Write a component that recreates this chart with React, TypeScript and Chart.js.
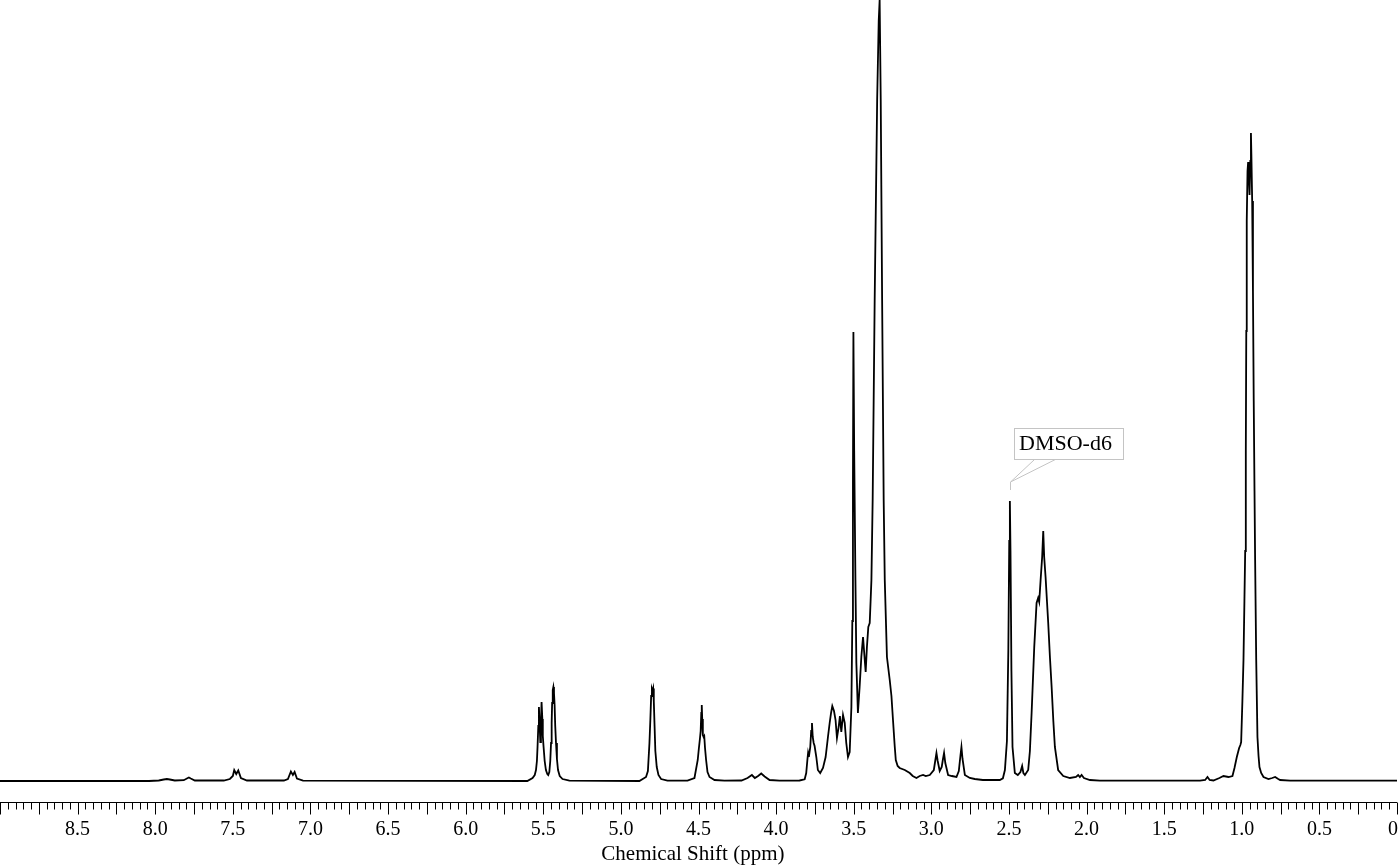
import React, { useEffect, useRef } from 'react';
import { Chart, registerables } from 'chart.js';

Chart.register(...registerables);

// Chemical shift (ppm) and intensity (arbitrary units)
const ppm = [
  9.0, 8.041, 7.977, 7.945, 7.925, 7.906, 7.874, 7.816, 7.796, 7.783, 7.771, 7.745,
  7.558, 7.519, 7.5, 7.491, 7.478, 7.465, 7.448, 7.409,
  7.171, 7.145, 7.126, 7.113, 7.102, 7.087, 7.048,
  5.603, 5.569, 5.555, 5.547, 5.541, 5.537, 5.532, 5.528, 5.524, 5.519, 5.515, 5.511,
  5.506, 5.503, 5.498, 5.491, 5.483, 5.474, 5.468, 5.461, 5.455, 5.45, 5.446, 5.443,
  5.439, 5.435, 5.431, 5.427, 5.423, 5.418, 5.412, 5.405, 5.394, 5.376, 5.332,
  4.881, 4.838, 4.826, 4.816, 4.81, 4.805, 4.8, 4.796, 4.792, 4.788, 4.783, 4.778,
  4.769, 4.758, 4.741, 4.7,
  4.571, 4.526, 4.505, 4.498, 4.491, 4.486, 4.482, 4.479, 4.476, 4.472, 4.467, 4.463,
  4.458, 4.451, 4.442, 4.429, 4.397, 4.333,
  4.223, 4.184, 4.156, 4.137, 4.116, 4.096, 4.074, 4.042, 3.978, 3.849,
  3.816, 3.806, 3.798, 3.794, 3.789, 3.78, 3.774, 3.769, 3.764, 3.758, 3.752, 3.741,
  3.731, 3.716, 3.698, 3.681, 3.666, 3.655, 3.646, 3.638, 3.627, 3.617, 3.608, 3.597,
  3.589, 3.58, 3.569, 3.558, 3.548, 3.537, 3.526, 3.515, 3.509, 3.505, 3.502, 3.497,
  3.489, 3.483, 3.473, 3.462, 3.451, 3.44, 3.429, 3.423, 3.415, 3.406, 3.397, 3.391,
  3.386, 3.378, 3.365, 3.349, 3.339, 3.333, 3.326, 3.317, 3.307, 3.3, 3.286, 3.268,
  3.257, 3.247, 3.236, 3.229, 3.217, 3.204, 3.171, 3.139, 3.12, 3.096, 3.075, 3.053,
  3.036, 3.01, 2.984, 2.975, 2.967, 2.959, 2.946, 2.933, 2.925, 2.918, 2.91, 2.892,
  2.868, 2.838, 2.823, 2.812, 2.806, 2.799, 2.784, 2.752, 2.72, 2.668,
  2.559, 2.539, 2.526, 2.513, 2.504, 2.498, 2.494, 2.49, 2.484, 2.477, 2.462, 2.443,
  2.426, 2.415, 2.407, 2.397, 2.376, 2.365, 2.354, 2.337, 2.322, 2.312, 2.305, 2.296,
  2.286, 2.279, 2.273, 2.264, 2.247, 2.236, 2.225, 2.214, 2.204, 2.183, 2.15, 2.107,
  2.068, 2.054, 2.043, 2.032, 2.017, 1.978, 1.914,
  1.269, 1.236, 1.221, 1.207, 1.183, 1.144, 1.118, 1.086, 1.06, 1.047, 1.032, 1.017,
  1.009, 1.004, 0.996, 0.989, 0.983, 0.978, 0.974, 0.971, 0.968, 0.963, 0.959, 0.955,
  0.95, 0.945, 0.941, 0.938, 0.933, 0.928, 0.923, 0.918, 0.914, 0.907, 0.899, 0.892,
  0.886, 0.875, 0.86, 0.828, 0.804, 0.785, 0.765, 0.753, 0.688, 0.0,
];

const intensity = [
  0, 0, 0.5, 1.5, 2, 1.5, 0.5, 0.8, 2.5, 3.5, 2.5, 0.5,
  0.5, 2, 5, 11, 7, 10.5, 3, 0.5,
  0.5, 2, 9.5, 6, 9, 2.5, 0.3,
  0, 3, 6, 11, 20, 34, 55, 74, 58, 39, 58, 79,
  62, 45, 34, 20, 11, 7, 6, 9, 20, 38, 58, 78,
  91, 94, 88, 76, 55, 38, 22, 11, 5, 2, 0.3,
  0, 4, 10, 38, 62, 85, 92, 90, 92.5, 80, 55, 30,
  14, 6, 2, 0.3,
  0.3, 3, 21, 32, 42, 50, 68, 76, 62, 46, 44, 45,
  33, 21, 9, 4, 1, 0.3,
  0.5, 3, 6, 3, 5, 7.5, 4.5, 1, 0.3, 0.5,
  1.7, 8, 22, 28, 24, 34, 50, 58, 44, 38, 35, 24,
  11, 8, 13, 24, 44, 58, 68, 75, 70, 61, 43, 54,
  65, 49, 66, 58, 38, 24, 29, 74, 160, 300, 449, 330,
  201, 118, 68, 94, 124, 144, 121, 109, 134, 154, 158, 181,
  201, 281, 481, 681, 760, 781, 681, 481, 281, 201, 124, 101,
  85, 61, 35, 21, 15, 13, 11, 8, 5, 3, 5, 6,
  5, 6, 11, 20, 28, 20, 10, 14, 22, 28, 18, 6,
  5, 4, 10, 26, 34, 22, 6, 3, 2, 1,
  1, 2.7, 11, 40, 130, 240, 280, 230, 110, 34, 8, 6,
  9, 15, 8, 6, 11, 30, 68, 134, 178, 183, 179, 201,
  224, 250, 224, 204, 158, 124, 94, 60, 34, 11, 5, 3,
  4, 6, 4, 6, 3, 1, 0.3,
  0.3, 1, 4, 1, 0.5, 3, 5, 4, 5, 13, 24, 33,
  36, 39, 80, 121, 180, 230, 330, 450, 560, 610, 619, 605,
  586, 620, 648, 625, 580, 490, 380, 290, 221, 121, 44, 25,
  14, 8, 4, 2, 3, 4, 2, 1, 0.3, 0.3,
];

const tickValues = [8.5, 8.0, 7.5, 7.0, 6.5, 6.0, 5.5, 5.0, 4.5, 4.0, 3.5, 3.0, 2.5, 2.0, 1.5, 1.0, 0.5, 0];
const tickLabels = ['8.5', '8.0', '7.5', '7.0', '6.5', '6.0', '5.5', '5.0', '4.5', '4.0', '3.5', '3.0', '2.5', '2.0', '1.5', '1.0', '0.5', '0'];
const axisTitle = 'Chemical Shift (ppm)';
const annotationLabel = 'DMSO-d6';
const annotationPpm = 2.494;
const annotationValue = 280;

const SERIF = '"Liberation Serif", "Times New Roman", serif';

export default function App() {
  const ref = useRef<HTMLCanvasElement>(null);

  useEffect(() => {
    document.body.style.margin = '0';
    const canvas = ref.current;
    if (!canvas) return;

    const axisPlugin = {
      id: 'nmrAxis',
      afterDraw(chart: any) {
        const c = chart.ctx as CanvasRenderingContext2D;
        const xs = chart.scales.x;
        const ys = chart.scales.y;
        const area = chart.chartArea;
        const y0 = Math.round(area.bottom) + 0.5;
        c.save();
        c.strokeStyle = '#000';
        c.lineWidth = 1;
        c.beginPath();
        c.moveTo(area.left, y0);
        c.lineTo(area.right, y0);
        c.stroke();

        // minor ticks every 0.05 ppm, long ticks every 0.25 ppm
        c.beginPath();
        for (let i = 0; i <= 180; i++) {
          const v = i * 0.05;
          const px = Math.round(xs.getPixelForValue(v)) + 0.5;
          const len = i % 5 === 0 ? 12 : 7;
          c.moveTo(px, y0);
          c.lineTo(px, y0 + len);
        }
        c.stroke();

        // tick labels
        c.fillStyle = '#000';
        c.font = '20px ' + SERIF;
        c.textAlign = 'center';
        c.textBaseline = 'alphabetic';
        const W = chart.width;
        tickValues.forEach((v, i) => {
          const txt = tickLabels[i];
          const w = c.measureText(txt).width;
          let px = xs.getPixelForValue(v);
          px = Math.min(px, W - 1 - w / 2);
          px = Math.max(px, w / 2 + 1);
          c.fillText(txt, px, y0 + 32);
        });

        // axis title
        c.font = '21px ' + SERIF;
        c.fillText(axisTitle, area.left + (area.right - area.left) * 0.496, y0 + 57);

        // DMSO annotation callout
        const ax = Math.round(xs.getPixelForValue(annotationPpm)) + 0.5;
        const ay = ys.getPixelForValue(annotationValue) - 19;
        c.strokeStyle = '#c4c4c4';
        c.lineWidth = 1;
        c.beginPath();
        c.moveTo(ax, ay + 8);
        c.lineTo(ax, ay);
        c.lineTo(ax + 25, ay - 23.4);
        c.moveTo(ax, ay);
        c.lineTo(ax + 46.7, ay - 23.4);
        c.stroke();
        const bx = Math.round(ax + 3.3) + 0.5;
        const by = Math.round(ay - 54.4) + 0.5;
        c.fillStyle = '#fff';
        c.fillRect(bx, by, 109, 31);
        c.strokeRect(bx, by, 109, 31);
        c.fillStyle = '#000';
        c.font = '22px ' + SERIF;
        c.textAlign = 'center';
        c.fillText(annotationLabel, ax + 55, ay - 31.7);
        c.restore();
      },
    };

    const points = ppm.map((p, i) => ({ x: p, y: intensity[i] }));

    const chart = new Chart(canvas, {
      type: 'line',
      data: {
        datasets: [
          {
            data: points,
            borderColor: '#000',
            borderWidth: 1.8,
            pointRadius: 0,
            tension: 0,
            fill: false,
          },
        ],
      },
      options: {
        animation: false,
        responsive: false,
        maintainAspectRatio: false,
        devicePixelRatio: 1,
        layout: { padding: { left: 0, right: 2, top: 0, bottom: 64 } },
        scales: {
          x: { type: 'linear', min: 0, max: 9, reverse: true, display: false },
          y: { type: 'linear', min: -21, max: 781, display: false },
        },
        plugins: {
          legend: { display: false },
          tooltip: { enabled: false },
          title: { display: false },
        },
      },
      plugins: [axisPlugin],
    } as any);

    return () => chart.destroy();
  }, []);

  return (
    <div style={{ position: 'relative', width: 1399, height: 866, background: '#fff' }}>
      <canvas ref={ref} width={1399} height={866} style={{ display: 'block', width: 1399, height: 866 }} />
    </div>
  );
}
